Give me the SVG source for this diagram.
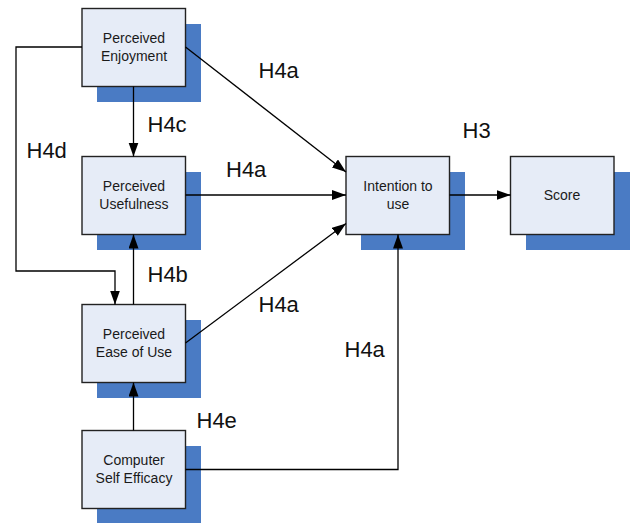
<svg xmlns="http://www.w3.org/2000/svg" width="630" height="523" viewBox="0 0 630 523">
<style>
.sh{fill:#4a7bc4}
.bx{fill:#e6ecf7;stroke:#222;stroke-width:1.4}
.nt{font-family:"Liberation Sans",Arial,sans-serif;font-size:14px;fill:#1a1a1a;text-anchor:middle}
.lb{font-family:"Liberation Sans",Arial,sans-serif;font-size:22px;fill:#111}
.cn{fill:none;stroke:#000;stroke-width:1.3;marker-end:url(#ah)}
</style>
<defs>
<marker id="ah" markerUnits="userSpaceOnUse" markerWidth="15" markerHeight="11" refX="14" refY="5" orient="auto" viewBox="0 0 15 11">
<path d="M0,0 L14,5 L0,10 z" fill="#000"/>
</marker>
</defs>
<rect width="630" height="523" fill="#fff"/>
<g id="enjoyment">
<rect class="sh" x="97" y="24" width="104" height="78"/>
<rect class="bx" x="82" y="8.5" width="103.5" height="78"/>
<text class="nt" x="134" y="43">Perceived</text>
<text class="nt" x="134" y="60.5">Enjoyment</text>
</g>
<g id="usefulness">
<rect class="sh" x="97" y="172" width="104" height="78"/>
<rect class="bx" x="82" y="156.5" width="103.5" height="78"/>
<text class="nt" x="134" y="191">Perceived</text>
<text class="nt" x="134" y="208.5">Usefulness</text>
</g>
<g id="ease">
<rect class="sh" x="97" y="320" width="104" height="78"/>
<rect class="bx" x="82" y="304.5" width="103.5" height="78"/>
<text class="nt" x="134" y="339">Perceived</text>
<text class="nt" x="134" y="356.5">Ease of Use</text>
</g>
<g id="cse">
<rect class="sh" x="97" y="446" width="104" height="78"/>
<rect class="bx" x="82" y="430.5" width="103.5" height="78"/>
<text class="nt" x="134" y="465">Computer</text>
<text class="nt" x="134" y="482.5">Self Efficacy</text>
</g>
<g id="intention">
<rect class="sh" x="361" y="172" width="104" height="78"/>
<rect class="bx" x="346" y="156.5" width="103.5" height="78"/>
<text class="nt" x="398" y="191">Intention to</text>
<text class="nt" x="398" y="208.5">use</text>
</g>
<g id="score">
<rect class="sh" x="526" y="172" width="104" height="78"/>
<rect class="bx" x="510.5" y="156.5" width="103.5" height="78"/>
<text class="nt" x="562" y="200">Score</text>
</g>
<g id="connectors">
<path class="cn" d="M133.5,86.5 V156.5"/>
<path class="cn" d="M185.5,47 L346,172"/>
<path class="cn" d="M185.5,195 H346"/>
<path class="cn" d="M185.5,343 L346,223.5"/>
<path class="cn" d="M185.5,469.5 H398 V234.5"/>
<path class="cn" d="M449.5,195 H510.5"/>
<path class="cn" d="M133.5,304.5 V234.5"/>
<path class="cn" d="M133.5,430.5 V382.5"/>
<path class="cn" d="M82,47 H16 V271 H115 V304.5"/>
</g>
<g id="labels">
<text class="lb" x="258.5" y="78">H4a</text>
<text class="lb" x="147.5" y="132">H4c</text>
<text class="lb" x="26.5" y="158">H4d</text>
<text class="lb" x="462.5" y="138">H3</text>
<text class="lb" x="226" y="177">H4a</text>
<text class="lb" x="147.5" y="282">H4b</text>
<text class="lb" x="258.5" y="312">H4a</text>
<text class="lb" x="344.5" y="357">H4a</text>
<text class="lb" x="196.5" y="428">H4e</text>
</g>
</svg>
